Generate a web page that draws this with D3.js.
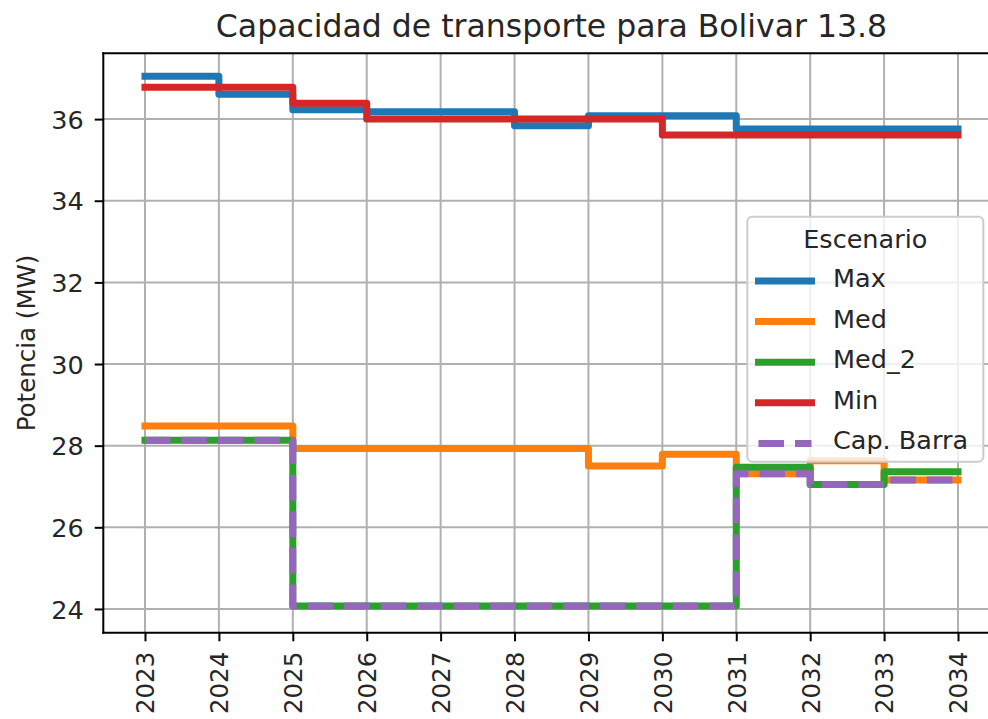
<!DOCTYPE html>
<html lang="es">
  <head>
    <meta charset="utf-8">
    <title>Capacidad de transporte para Bolivar 13.8</title>
    <style media="screen">
      html, body {
        margin: 0;
        padding: 0;
        background: white;
      }
      svg {
        display: block;
        font-family: "DejaVu Sans", sans-serif;
      }
      .grid line {
        stroke: #b0b0b0;
        stroke-width: 2;
      }
    </style>
    <script src="https://cdn.jsdelivr.net/npm/d3@7"></script>
  </head>
  <body>
    <svg id="chart" width="988" height="719"></svg>
  </body>
  <script type="text/javascript">
  // data (step plot, value holds until next year)
  const years = [2023, 2024, 2025, 2026, 2027, 2028, 2029, 2030, 2031, 2032, 2033, 2034];
  const maxVals = [37.05, 36.61, 36.23, 36.18, 36.18, 35.84, 36.08, 36.08, 35.76, 35.76, 35.76, 35.76];
  const medVals = [28.48, 28.48, 27.93, 27.93, 27.93, 27.93, 27.50, 27.79, 27.31, 27.63, 27.16, 27.16];
  const med2Vals = [28.13, 28.13, 24.07, 24.07, 24.07, 24.07, 24.07, 24.07, 27.47, 27.05, 27.36, 27.36];
  const minVals = [36.78, 36.78, 36.39, 36.0, 36.0, 36.0, 36.0, 35.61, 35.61, 35.61, 35.61, 35.61];
  const capVals = [28.13, 28.13, 24.07, 24.07, 24.07, 24.07, 24.07, 24.07, 27.31, 27.05, 27.16, 27.16];
  const yTicks = [24, 26, 28, 30, 32, 34, 36];

  const series = [
    {name: 'Max', values: maxVals, color: '#1f77b4', dashed: false},
    {name: 'Med', values: medVals, color: '#ff7f0e', dashed: false},
    {name: 'Med_2', values: med2Vals, color: '#2ca02c', dashed: false},
    {name: 'Min', values: minVals, color: '#d62728', dashed: false},
    {name: 'Cap. Barra', values: capVals, color: '#9467bd', dashed: true}
  ];

  const svg = d3.select('#chart');

  // axes box (right side runs past the picture edge)
  const axLeft = 103.3, axRight = 999.7, axTop = 53.3, axBottom = 632.7;
  const lineW = 7;
  const dash = '25.5,11';

  const x = d3.scaleLinear().domain([2022.436, 2034.564]).range([axLeft, axRight]);
  const y = d3.scaleLinear().domain([23.418, 37.612]).range([axBottom, axTop]);

  // grid
  const grid = svg.append('g').attr('class', 'grid');
  grid.selectAll('line.v')
    .data(years)
    .enter().append('line')
    .attr('class', 'v')
    .attr('x1', d => x(d)).attr('x2', d => x(d))
    .attr('y1', axTop).attr('y2', axBottom);
  grid.selectAll('line.h')
    .data(yTicks)
    .enter().append('line')
    .attr('class', 'h')
    .attr('x1', axLeft).attr('x2', axRight)
    .attr('y1', d => y(d)).attr('y2', d => y(d));

  // step lines
  const line = d3.line()
    .x((d, i) => x(years[i]))
    .y(d => y(d))
    .curve(d3.curveStepAfter);

  svg.append('g')
    .attr('class', 'lines')
    .selectAll('path')
    .data(series)
    .enter().append('path')
    .attr('d', d => line(d.values))
    .attr('fill', 'none')
    .attr('stroke', d => d.color)
    .attr('stroke-width', lineW)
    .attr('stroke-linejoin', 'round')
    .attr('stroke-linecap', d => d.dashed ? 'butt' : 'square')
    .attr('stroke-dasharray', d => d.dashed ? dash : null);

  // axes with d3 axis generators
  const xAxis = d3.axisBottom(x)
    .tickValues(years)
    .tickFormat(d3.format('d'))
    .tickSize(8.6)
    .tickPadding(9);
  const yAxis = d3.axisLeft(y)
    .tickValues(yTicks)
    .tickFormat(d3.format('d'))
    .tickSize(8.6)
    .tickPadding(11);

  const gx = svg.append('g')
    .attr('transform', `translate(0,${axBottom})`)
    .call(xAxis);
  const gy = svg.append('g')
    .attr('transform', `translate(${axLeft},0)`)
    .call(yAxis);

  [gx, gy].forEach(g => {
    g.select('.domain').remove();
    g.selectAll('.tick line').attr('stroke', 'black').attr('stroke-width', 2);
    g.selectAll('.tick text').attr('fill', '#262626').style('font-family', '"DejaVu Sans", sans-serif');
  });
  gy.selectAll('.tick text').style('font-size', '25.5px').attr('dy', '0.36em');

  // rotated year labels
  gx.selectAll('.tick text')
    .style('font-size', '24.5px')
    .attr('text-anchor', 'end')
    .attr('y', 0)
    .attr('dy', '0.36em')
    .attr('transform', 'translate(0,19) rotate(-90)');

  // spines (left, bottom, top)
  const spines = svg.append('g').attr('stroke', 'black').attr('stroke-width', 2);
  spines.append('line').attr('x1', axLeft).attr('x2', axLeft).attr('y1', axTop - 1).attr('y2', axBottom + 1);
  spines.append('line').attr('x1', axLeft - 1).attr('x2', axRight).attr('y1', axBottom).attr('y2', axBottom);
  spines.append('line').attr('x1', axLeft - 1).attr('x2', axRight).attr('y1', axTop).attr('y2', axTop);

  // title and y label
  svg.append('text')
    .attr('x', (axLeft + axRight) / 2)
    .attr('y', 37)
    .attr('text-anchor', 'middle')
    .style('font-size', '31.5px')
    .attr('fill', '#262626')
    .text('Capacidad de transporte para Bolivar 13.8');

  svg.append('text')
    .attr('transform', `translate(35,${(axTop + axBottom) / 2}) rotate(-90)`)
    .attr('text-anchor', 'middle')
    .style('font-size', '24.5px')
    .attr('fill', '#262626')
    .text('Potencia (MW)');

  // legend
  const legend = svg.append('g').attr('class', 'legend');
  legend.append('rect')
    .attr('x', 747.3).attr('y', 216.7)
    .attr('width', 236).attr('height', 245)
    .attr('rx', 5)
    .attr('fill', 'white').attr('fill-opacity', 0.8)
    .attr('stroke', '#cccccc').attr('stroke-width', 2);
  legend.append('text')
    .attr('x', 865.3).attr('y', 247.5)
    .attr('text-anchor', 'middle')
    .style('font-size', '25.5px')
    .attr('fill', '#262626')
    .text('Escenario');

  const rows = legend.selectAll('g.row')
    .data(series)
    .enter().append('g')
    .attr('class', 'row')
    .attr('transform', (d, i) => `translate(0,${281 + i * 40.6})`);
  rows.append('line')
    .attr('x1', 758.5).attr('x2', 811.5)
    .attr('stroke', d => d.color)
    .attr('stroke-width', lineW)
    .attr('stroke-linecap', d => d.dashed ? 'butt' : 'square')
    .attr('stroke-dasharray', d => d.dashed ? dash : null);
  rows.append('text')
    .attr('x', 833).attr('y', 6)
    .style('font-size', '25.5px')
    .attr('fill', '#262626')
    .text(d => d.name);
</script>
</html>
